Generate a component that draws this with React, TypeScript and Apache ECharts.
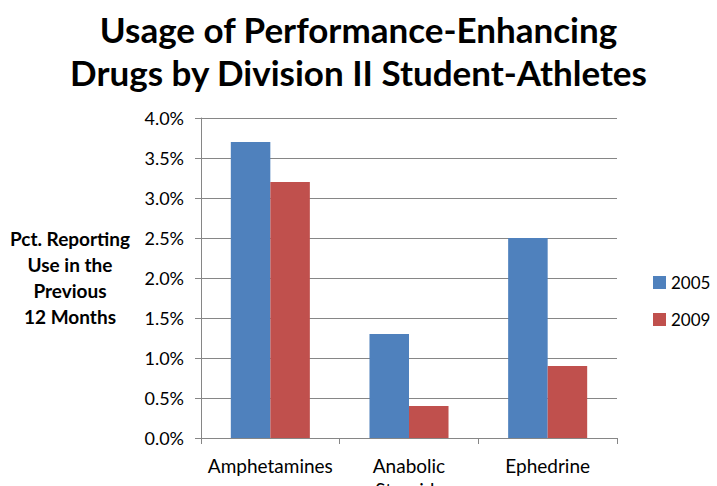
import React, { useEffect, useRef } from "react";
import * as echarts from "echarts";

const categories = ["Amphetamines", "Anabolic\nSteroids", "Ephedrine"];
const series2005 = [3.7, 1.3, 2.5];
const series2009 = [3.2, 0.4, 0.9];
const seriesNames = ["2005", "2009"];
const titleLines = ["Usage of Performance-Enhancing", "Drugs by Division II Student-Athletes"];
const yAxisTitle = ["Pct. Reporting", "Use in the", "Previous", "12 Months"];

const FONT = "Lato, 'Open Sans', sans-serif";

export default function App() {
  const ref = useRef<HTMLDivElement>(null);
  useEffect(() => {
    document.body.style.margin = "0";
    const chart = echarts.init(ref.current!, null, { renderer: "svg" });
    chart.setOption({
      animation: false,
      backgroundColor: "#ffffff",
      textStyle: { fontFamily: FONT },
      title: {
        text: titleLines.join("\n"),
        left: "center",
        top: 2,
        textStyle: {
          fontFamily: FONT,
          fontSize: 35,
          fontWeight: "bold",
          color: "#000",
          lineHeight: 43,
        },
      },
      legend: {
        orient: "vertical",
        left: 648,
        top: 269,
        itemWidth: 13,
        itemHeight: 13,
        itemGap: 20,
        icon: "rect",
        textStyle: { fontFamily: FONT, fontSize: 17, color: "#000" },
        data: seriesNames,
      },
      grid: {
        left: 201,
        right: 100,
        top: 118,
        bottom: 48,
        containLabel: false,
        outerBoundsMode: "none",
      },
      xAxis: {
        type: "category",
        data: categories,
        axisLine: { lineStyle: { color: "#868686" } },
        axisTick: { show: true, length: 6, lineStyle: { color: "#868686" } },
        axisLabel: {
          fontFamily: FONT,
          fontSize: 19,
          color: "#000",
          margin: 15,
          lineHeight: 24,
          interval: 0,
        },
      },
      yAxis: {
        type: "value",
        min: 0,
        max: 4,
        interval: 0.5,
        axisLine: { show: true, lineStyle: { color: "#868686" } },
        axisTick: { show: true, length: 6, lineStyle: { color: "#868686" } },
        splitLine: { show: true, lineStyle: { color: "#868686" } },
        axisLabel: {
          fontFamily: FONT,
          fontSize: 18,
          color: "#000",
          margin: 17,
          formatter: (v: number) => v.toFixed(1) + "%",
        },
      },
      graphic: [
        {
          type: "text",
          x: 70,
          y: 225,
          style: {
            text: yAxisTitle.join("\n"),
            fontFamily: FONT,
            fontSize: 19,
            fontWeight: "bold",
            fill: "#000",
            align: "center",
            verticalAlign: "top",
            lineHeight: 26,
          },
        },
      ],
      series: [
        {
          name: seriesNames[0],
          type: "bar",
          data: series2005,
          itemStyle: { color: "#4F81BD" },
          barGap: "0%",
          barCategoryGap: "43%",
        },
        {
          name: seriesNames[1],
          type: "bar",
          data: series2009,
          itemStyle: { color: "#C0504D" },
          barGap: "0%",
          barCategoryGap: "43%",
        },
      ],
    });
    return () => chart.dispose();
  }, []);
  return <div ref={ref} style={{ width: 717, height: 486 }} />;
}
